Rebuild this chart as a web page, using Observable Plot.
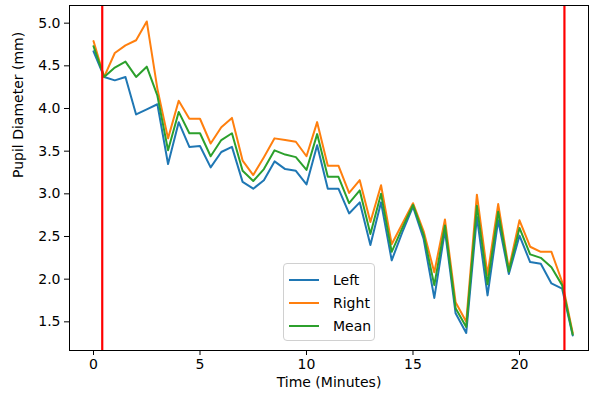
<!DOCTYPE html>
<html>
<head>
<meta charset="utf-8">
<script src="https://cdn.jsdelivr.net/npm/d3@7"></script>
<script src="https://cdn.jsdelivr.net/npm/@observablehq/plot@0.6"></script>
<style>
  html, body { margin: 0; padding: 0; background: #fff; }
  #wrap { position: relative; width: 591px; height: 404px; font-family: "DejaVu Sans", sans-serif; }
  #legend { position: absolute; left: 283px; top: 263px; width: 92px; height: 78px;
    border: 1px solid #d0d0d0; border-radius: 4px; background: rgba(255,255,255,0.85);
    font-size: 14px; color: #000; box-sizing: border-box; }
  .item { position: absolute; left: 0; height: 20px; display: flex; align-items: center; }
  .sw { width: 30px; height: 0; border-top: 2px solid; margin-left: 5px; margin-right: 14px; }
</style>
</head>
<body>
<div id="wrap"></div>
<script>
const times = [0,0.5,1,1.5,2,2.5,3,3.5,4,4.5,5,5.5,6,6.5,7,7.5,8,8.5,9,9.5,10,10.5,11,11.5,12,12.5,13,13.5,14,14.5,15,15.5,16,16.5,17,17.5,18,18.5,19,19.5,20,20.5,21,21.5,22,22.5];
const left  = [4.67,4.37,4.33,4.37,3.93,3.99,4.05,3.35,3.84,3.55,3.56,3.31,3.49,3.55,3.14,3.06,3.16,3.38,3.29,3.27,3.11,3.57,3.06,3.06,2.77,2.90,2.40,2.90,2.22,2.55,2.85,2.47,1.78,2.57,1.60,1.37,2.73,1.81,2.69,2.06,2.51,2.20,2.18,1.95,1.89,1.34];
const right = [4.79,4.37,4.65,4.74,4.80,5.02,4.23,3.65,4.09,3.88,3.88,3.59,3.78,3.89,3.39,3.22,3.43,3.65,3.63,3.61,3.44,3.84,3.33,3.33,3.01,3.16,2.67,3.10,2.41,2.65,2.89,2.56,2.08,2.70,1.73,1.50,2.99,2.05,2.88,2.12,2.69,2.38,2.32,2.32,1.97,1.37];
const mean  = [4.73,4.37,4.48,4.55,4.37,4.49,4.15,3.51,3.96,3.71,3.71,3.44,3.63,3.71,3.27,3.15,3.29,3.51,3.46,3.43,3.28,3.70,3.20,3.20,2.89,3.04,2.53,3.00,2.32,2.60,2.87,2.52,1.93,2.63,1.66,1.44,2.86,1.94,2.79,2.09,2.60,2.29,2.25,2.14,1.93,1.35];
const seriesNames = ["Left", "Right", "Mean"];
const seriesColors = ["#1f77b4", "#ff7f0e", "#2ca02c"];
const markerTimes = [0.41, 22.11];
const xTicks = [0, 5, 10, 15, 20];
const yTicks = [1.5, 2.0, 2.5, 3.0, 3.5, 4.0, 4.5, 5.0];

const seriesValues = [left, right, mean];
const rows = seriesNames.flatMap((name, i) => times.map((t, j) => ({t, v: seriesValues[i][j], series: name})));

const chart = Plot.plot({
  width: 591, height: 404,
  marginLeft: 69, marginRight: 3, marginTop: 5, marginBottom: 54,
  style: {fontFamily: "DejaVu Sans, sans-serif", fontSize: "14px", color: "#000", background: "#fff"},
  x: {domain: [-1.127, 23.24]},
  y: {domain: [1.164, 5.207]},
  color: {domain: seriesNames, range: seriesColors},
  marks: [
    Plot.axisX({ticks: xTicks, tickSize: 5, tickPadding: 4, label: null, fontSize: 14, stroke: "#000"}),
    Plot.axisY({ticks: yTicks, tickSize: 5, tickPadding: 4, label: null, fontSize: 14, tickFormat: d3.format(".1f"), stroke: "#000"}),
    Plot.lineY(rows, {x: "t", y: "v", stroke: "series", strokeWidth: 2}),
    Plot.ruleX(markerTimes, {stroke: "#ff0000", strokeWidth: 2.2}),
    Plot.frame({stroke: "#000", strokeWidth: 1}),
    Plot.text(["Time (Minutes)"], {frameAnchor: "bottom", dy: 36, fontSize: 14, fill: "#000"}),
    Plot.text(["Pupil Diameter (mm)"], {frameAnchor: "left", dx: -51, rotate: -90, fontSize: 14, fill: "#000"})
  ]
});

const wrap = document.getElementById("wrap");
wrap.appendChild(chart);
const legend = document.createElement("div");
legend.id = "legend";
seriesNames.forEach((name, i) => {
  const item = document.createElement("div");
  item.className = "item";
  item.style.top = (6 + i * 23) + "px";
  const sw = document.createElement("div");
  sw.className = "sw";
  sw.style.borderTopColor = seriesColors[i];
  const label = document.createElement("span");
  label.textContent = name;
  item.appendChild(sw);
  item.appendChild(label);
  legend.appendChild(item);
});
wrap.appendChild(legend);
</script>
</body>
</html>
